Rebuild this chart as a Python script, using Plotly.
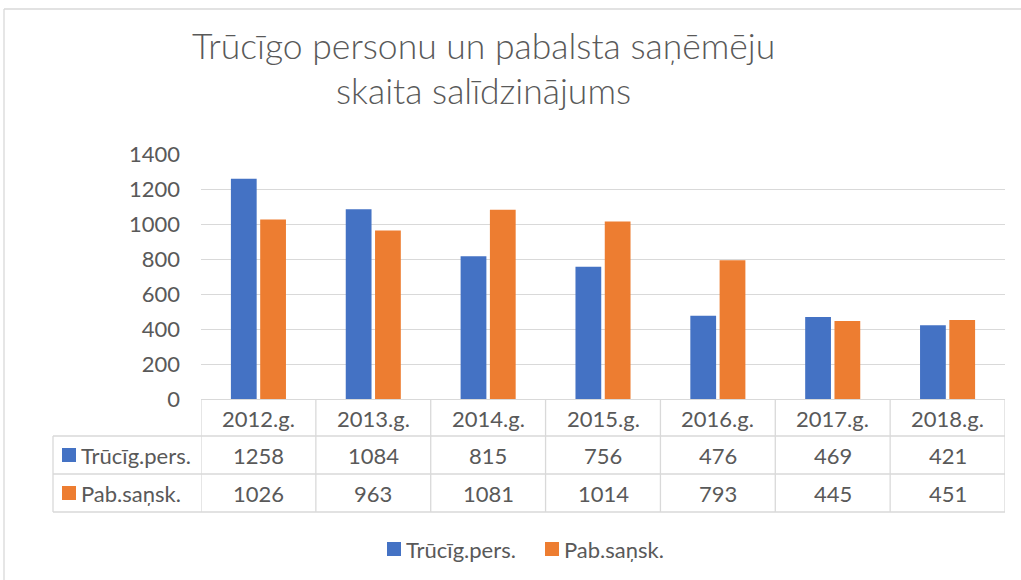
import plotly.graph_objects as go

categories = ["2012.g.", "2013.g.", "2014.g.", "2015.g.", "2016.g.", "2017.g.", "2018.g."]
series_names = ["Trūcīg.pers.", "Pab.saņsk."]
trucig = [1258, 1084, 815, 756, 476, 469, 421]
pabalsts = [1026, 963, 1081, 1014, 793, 445, 451]
y_ticks = [0, 200, 400, 600, 800, 1000, 1200, 1400]
title_lines = ["Trūcīgo personu un pabalsta saņēmēju", "skaita salīdzinājums"]
colors = ["#4472C4", "#ED7D31"]

W, H = 1021, 580
L, R, T, B = 201, 1005, 154, 399
TXT = "#595959"
GRID = "#d9d9d9"
FONT = "Lato"
FS = 22


def px(x):
    return (x - L) / (R - L)


def py(y):
    return (B - y) / (B - T)


fig = go.Figure()
for name, vals, c in zip(series_names, [trucig, pabalsts], colors):
    fig.add_trace(go.Bar(x=categories, y=vals, name=name, showlegend=False,
                         marker=dict(color=c, line=dict(width=0))))

shapes = []
annotations = []
line = dict(color=GRID, width=1.3)

# outer chart border
shapes.append(dict(type="line", xref="paper", yref="paper", x0=px(4), x1=px(1021), y0=py(9), y1=py(9), line=line))
shapes.append(dict(type="line", xref="paper", yref="paper", x0=px(4), x1=px(4), y0=py(9), y1=py(580), line=line))

# title
for txt, yc in zip(title_lines, [45, 90]):
    annotations.append(dict(x=px(483), y=py(yc), xref="paper", yref="paper", text=txt, showarrow=False,
                            font=dict(family=FONT, size=35.5, color=TXT, weight=300),
                            xanchor="center", yanchor="middle"))

# table horizontal lines
for yy in [436, 474, 512]:
    shapes.append(dict(type="line", xref="paper", yref="paper", x0=px(53), x1=1, y0=py(yy), y1=py(yy), line=line))
shapes.append(dict(type="line", xref="paper", yref="paper", x0=px(53), x1=px(53), y0=py(436), y1=py(512), line=line))
for i in range(len(categories) + 1):
    shapes.append(dict(type="line", xref="x", yref="paper", x0=i - 0.5, x1=i - 0.5, y0=0, y1=py(512), line=line))

# header labels
for cat in categories:
    annotations.append(dict(x=cat, y=py(418), xref="x", yref="paper", text=cat, showarrow=False,
                            font=dict(family=FONT, size=FS, color=TXT), xanchor="center", yanchor="middle"))
# values + row keys
for name, vals, c, yc in zip(series_names, [trucig, pabalsts], colors, [455, 493]):
    for cat, v in zip(categories, vals):
        annotations.append(dict(x=cat, y=py(yc), xref="x", yref="paper", text=str(v), showarrow=False,
                                font=dict(family=FONT, size=FS, color=TXT), xanchor="center", yanchor="middle"))
    shapes.append(dict(type="rect", xref="paper", yref="paper", x0=px(62), x1=px(76), y0=py(yc - 7), y1=py(yc + 7),
                       fillcolor=c, line=dict(width=0)))
    annotations.append(dict(x=px(79), y=py(yc), xref="paper", yref="paper", text=name, showarrow=False,
                            font=dict(family=FONT, size=FS, color=TXT), xanchor="left", yanchor="middle"))

# bottom legend
for name, c, x0 in zip(series_names, colors, [387, 545]):
    shapes.append(dict(type="rect", xref="paper", yref="paper", x0=px(x0), x1=px(x0 + 14), y0=py(542), y1=py(556),
                       fillcolor=c, line=dict(width=0)))
    annotations.append(dict(x=px(x0 + 17), y=py(549), xref="paper", yref="paper", text=name, showarrow=False,
                            font=dict(family=FONT, size=FS, color=TXT), xanchor="left", yanchor="middle"))

fig.update_layout(
    width=W, height=H,
    margin=dict(l=L, r=W - R, t=T, b=H - B, pad=0),
    paper_bgcolor="white", plot_bgcolor="white",
    barmode="group", bargap=0.49, bargroupgap=0.12,
    showlegend=False,
    xaxis=dict(showticklabels=False, showgrid=False, showline=True, linecolor=GRID, linewidth=1.3,
               ticks="", range=[-0.5, len(categories) - 0.5], automargin=False),
    yaxis=dict(range=[0, 1400], tickvals=y_ticks, showgrid=True, gridcolor=GRID, gridwidth=1.3,
               zeroline=False, showline=False, ticks="", ticklabelstandoff=20, automargin=False,
               tickfont=dict(family=FONT, size=FS, color=TXT)),
    shapes=shapes, annotations=annotations,
)

fig.write_html("out.html", config={"displayModeBar": False},
               post_script="document.body.style.margin='0';document.body.style.overflow='hidden';")
